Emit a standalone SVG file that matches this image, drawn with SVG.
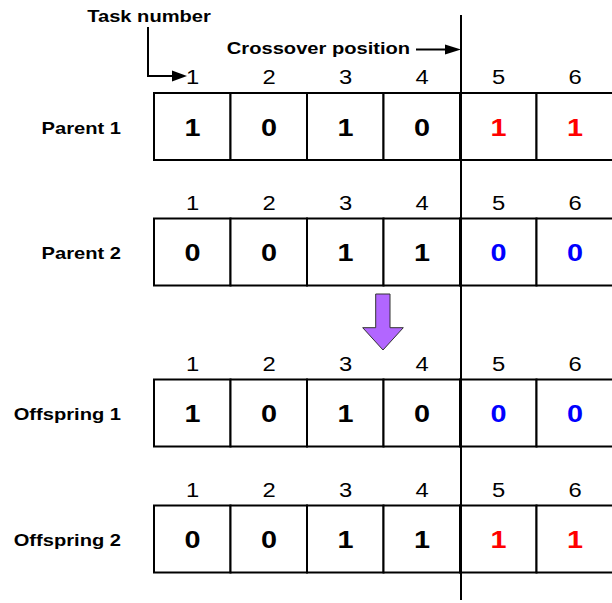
<svg xmlns="http://www.w3.org/2000/svg" width="612" height="603" viewBox="0 0 612 603">
<style>
.lbl{font-family:"Liberation Sans",Arial,sans-serif;font-weight:bold;font-size:16.5px;fill:#000}
.num{font-family:"Liberation Sans",Arial,sans-serif;font-size:19.5px;fill:#000;text-anchor:middle}
.val{font-family:"Liberation Sans",Arial,sans-serif;font-weight:bold;font-size:24px;fill:#000;text-anchor:middle}
.red{fill:#ff0000}
.blue{fill:#0000ff}
.cell{fill:#fff;stroke:#000;stroke-width:2}
.ln{stroke:#000;stroke-width:2;fill:none}
</style>
<rect width="612" height="603" fill="#fff"/>
<g id="parent1">
<text class="lbl" text-anchor="end" transform="translate(121,134) scale(1.22,1)">Parent 1</text>
<text class="num" transform="translate(192.5,84) scale(1.22,1)">1</text>
<text class="num" transform="translate(269,84) scale(1.22,1)">2</text>
<text class="num" transform="translate(345.5,84) scale(1.22,1)">3</text>
<text class="num" transform="translate(422,84) scale(1.22,1)">4</text>
<text class="num" transform="translate(498.5,84) scale(1.22,1)">5</text>
<text class="num" transform="translate(575,84) scale(1.22,1)">6</text>
<rect class="cell" x="154" y="93" width="76.5" height="67"/>
<rect class="cell" x="230.5" y="93" width="76.5" height="67"/>
<rect class="cell" x="307" y="93" width="76.5" height="67"/>
<rect class="cell" x="383.5" y="93" width="76.5" height="67"/>
<rect class="cell" x="460" y="93" width="76.5" height="67"/>
<rect class="cell" x="536.5" y="93" width="76.5" height="67"/>
<text class="val" transform="translate(192.5,135.7) scale(1.2,1)">1</text>
<text class="val" transform="translate(269,135.7) scale(1.2,1)">0</text>
<text class="val" transform="translate(345.5,135.7) scale(1.2,1)">1</text>
<text class="val" transform="translate(422,135.7) scale(1.2,1)">0</text>
<text class="val red" transform="translate(498.5,135.7) scale(1.2,1)">1</text>
<text class="val red" transform="translate(575,135.7) scale(1.2,1)">1</text>
</g>
<g id="parent2">
<text class="lbl" text-anchor="end" transform="translate(121,259) scale(1.22,1)">Parent 2</text>
<text class="num" transform="translate(192.5,209.5) scale(1.22,1)">1</text>
<text class="num" transform="translate(269,209.5) scale(1.22,1)">2</text>
<text class="num" transform="translate(345.5,209.5) scale(1.22,1)">3</text>
<text class="num" transform="translate(422,209.5) scale(1.22,1)">4</text>
<text class="num" transform="translate(498.5,209.5) scale(1.22,1)">5</text>
<text class="num" transform="translate(575,209.5) scale(1.22,1)">6</text>
<rect class="cell" x="154" y="218.5" width="76.5" height="67"/>
<rect class="cell" x="230.5" y="218.5" width="76.5" height="67"/>
<rect class="cell" x="307" y="218.5" width="76.5" height="67"/>
<rect class="cell" x="383.5" y="218.5" width="76.5" height="67"/>
<rect class="cell" x="460" y="218.5" width="76.5" height="67"/>
<rect class="cell" x="536.5" y="218.5" width="76.5" height="67"/>
<text class="val" transform="translate(192.5,261.2) scale(1.2,1)">0</text>
<text class="val" transform="translate(269,261.2) scale(1.2,1)">0</text>
<text class="val" transform="translate(345.5,261.2) scale(1.2,1)">1</text>
<text class="val" transform="translate(422,261.2) scale(1.2,1)">1</text>
<text class="val blue" transform="translate(498.5,261.2) scale(1.2,1)">0</text>
<text class="val blue" transform="translate(575,261.2) scale(1.2,1)">0</text>
</g>
<g id="offspring1">
<text class="lbl" text-anchor="end" transform="translate(121,420) scale(1.22,1)">Offspring 1</text>
<text class="num" transform="translate(192.5,370.5) scale(1.22,1)">1</text>
<text class="num" transform="translate(269,370.5) scale(1.22,1)">2</text>
<text class="num" transform="translate(345.5,370.5) scale(1.22,1)">3</text>
<text class="num" transform="translate(422,370.5) scale(1.22,1)">4</text>
<text class="num" transform="translate(498.5,370.5) scale(1.22,1)">5</text>
<text class="num" transform="translate(575,370.5) scale(1.22,1)">6</text>
<rect class="cell" x="154" y="379.5" width="76.5" height="67"/>
<rect class="cell" x="230.5" y="379.5" width="76.5" height="67"/>
<rect class="cell" x="307" y="379.5" width="76.5" height="67"/>
<rect class="cell" x="383.5" y="379.5" width="76.5" height="67"/>
<rect class="cell" x="460" y="379.5" width="76.5" height="67"/>
<rect class="cell" x="536.5" y="379.5" width="76.5" height="67"/>
<text class="val" transform="translate(192.5,422.2) scale(1.2,1)">1</text>
<text class="val" transform="translate(269,422.2) scale(1.2,1)">0</text>
<text class="val" transform="translate(345.5,422.2) scale(1.2,1)">1</text>
<text class="val" transform="translate(422,422.2) scale(1.2,1)">0</text>
<text class="val blue" transform="translate(498.5,422.2) scale(1.2,1)">0</text>
<text class="val blue" transform="translate(575,422.2) scale(1.2,1)">0</text>
</g>
<g id="offspring2">
<text class="lbl" text-anchor="end" transform="translate(121,546) scale(1.22,1)">Offspring 2</text>
<text class="num" transform="translate(192.5,496.5) scale(1.22,1)">1</text>
<text class="num" transform="translate(269,496.5) scale(1.22,1)">2</text>
<text class="num" transform="translate(345.5,496.5) scale(1.22,1)">3</text>
<text class="num" transform="translate(422,496.5) scale(1.22,1)">4</text>
<text class="num" transform="translate(498.5,496.5) scale(1.22,1)">5</text>
<text class="num" transform="translate(575,496.5) scale(1.22,1)">6</text>
<rect class="cell" x="154" y="505.5" width="76.5" height="67"/>
<rect class="cell" x="230.5" y="505.5" width="76.5" height="67"/>
<rect class="cell" x="307" y="505.5" width="76.5" height="67"/>
<rect class="cell" x="383.5" y="505.5" width="76.5" height="67"/>
<rect class="cell" x="460" y="505.5" width="76.5" height="67"/>
<rect class="cell" x="536.5" y="505.5" width="76.5" height="67"/>
<text class="val" transform="translate(192.5,548.2) scale(1.2,1)">0</text>
<text class="val" transform="translate(269,548.2) scale(1.2,1)">0</text>
<text class="val" transform="translate(345.5,548.2) scale(1.2,1)">1</text>
<text class="val" transform="translate(422,548.2) scale(1.2,1)">1</text>
<text class="val red" transform="translate(498.5,548.2) scale(1.2,1)">1</text>
<text class="val red" transform="translate(575,548.2) scale(1.2,1)">1</text>
</g>
<g id="task-number">
<text class="lbl" text-anchor="middle" transform="translate(149,21.5) scale(1.22,1)">Task number</text>
</g>
<g id="crossover-label">
<text class="lbl" text-anchor="middle" transform="translate(318.5,53.5) scale(1.22,1)">Crossover position</text>
</g>
<g id="connectors">
<line class="ln" x1="461" y1="15" x2="461" y2="600"/>
<polyline class="ln" points="148,27 148,76 176,76"/>
<polygon points="187,76 172,70.5 172,81.5" fill="#000"/>
<line class="ln" x1="416" y1="49.5" x2="448" y2="49.5"/>
<polygon points="461,49.5 445,44.5 445,54.5" fill="#000"/>
<polygon points="375.7,294 390,294 390,327.7 403.3,327.7 383,350 362.7,327.7 375.7,327.7" fill="#b266ff" stroke="#333" stroke-width="1"/>
</g>
</svg>
